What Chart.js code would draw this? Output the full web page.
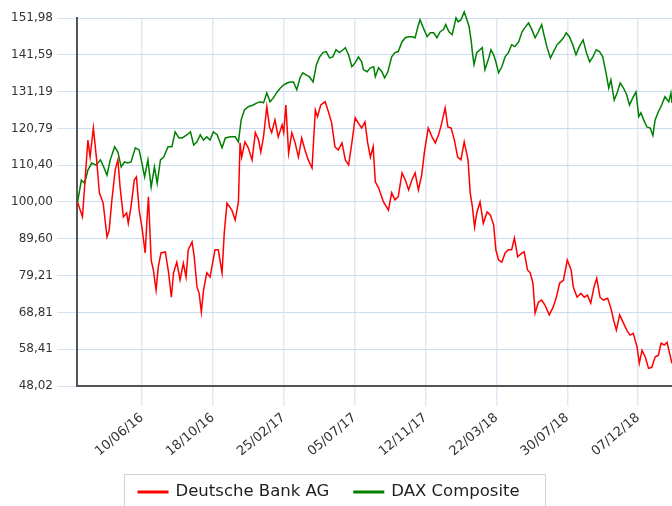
<!DOCTYPE html>
<html>
<head>
<meta charset="utf-8">
<script src="https://cdn.jsdelivr.net/npm/chart.js@4/dist/chart.umd.min.js"></script>
<style>
  html, body { margin: 0; padding: 0; background: #fff; }
  canvas { display: block; }
</style>
</head>
<body>
<canvas id="chart" width="672" height="506"></canvas>
<script>
// x values are days counted from the first tick date (10/06/16)
const xTickLabels = ["10/06/16", "18/10/16", "25/02/17", "05/07/17", "12/11/17", "22/03/18", "30/07/18", "07/12/18"];
const yTicks = [48.02, 58.41, 68.81, 79.21, 89.60, 100.00, 110.40, 120.79, 131.19, 141.59, 151.98];
const yTickLabels = ["48,02", "58,41", "68,81", "79,21", "89,60", "100,00", "110,40", "120,79", "131,19", "141,59", "151,98"];
const seriesNames = ["Deutsche Bank AG", "DAX Composite"];

const dbDays = [-118,-109,-99,-95,-89,-83,-78,-71,-64,-60,-55,-49,-44,-40,-34,-28,-25,-20,-14,-10,-5,0,6,9,12,17,21,26,30,35,43,49,54,58,64,70,76,81,85,92,96,101,105,109,113,119,125,134,140,147,151,156,165,171,177,180,183,189,195,202,208,214,218,223,229,234,238,244,250,257,260,264,269,275,281,287,293,299,305,312,318,322,328,336,342,348,354,360,367,373,379,385,391,397,403,409,414,419,424,428,434,443,452,458,464,470,477,483,489,495,501,507,513,518,525,532,538,544,549,556,561,567,573,579,585,591,598,602,606,610,614,620,626,633,639,645,649,654,660,666,672,678,683,689,697,701,707,712,717,721,727,733,739,747,754,760,766,773,780,787,791,798,805,811,817,823,829,834,840,846,854,860,865,870,876,883,889,895,901,908,912,917,923,929,935,941,947,952,958,963,967,972];
const dbValues = [100,95.8,117.5,112.7,120.9,111.9,102.6,99.7,90.1,92,100.6,109,111.9,104.2,95.8,96.9,94,98.6,106.2,107.1,97.7,92.9,85.6,94,101.5,83.6,80.8,75.1,81.6,85.6,85.9,80,73.1,80,83,78,82.7,78.8,86.5,88.7,84.5,76,74.2,68.9,75.1,80,78.8,86.5,86.5,80,91.2,99.7,97.7,94.9,100,116.7,112.7,117,115.3,111.9,119.6,117.5,114.1,118.4,126.9,121.2,119.6,123.2,118.4,121.8,119.6,127.4,113.8,119.6,116.7,112.7,118.1,114.7,111.9,109.6,126,124.1,127.4,128.3,125.5,122.3,115.6,114.7,116.7,111.9,110.5,116.7,123.8,122.3,120.9,122.6,116.7,112.7,115.6,105.7,104,100,97.7,102.6,100.6,101.5,108.2,106.2,103.4,106.2,108.2,103.4,107.6,114.1,120.9,118.4,116.7,119,121.8,126.6,121.2,120.9,117.5,112.7,111.9,117,111.9,102.6,98.6,92.9,96.9,100,94,97.2,96.3,93.5,86.5,83.6,83,85.6,86.5,86.5,89.8,84.5,85.6,85.9,80.8,80,77.1,68.6,71.7,72.3,70.9,68.1,70.3,73.1,77.1,77.9,83.6,80.8,76,73.1,74.2,73.1,73.7,71.4,76,78.5,73.1,72.3,72.8,70,66.6,63.8,68.1,65.8,63.8,62.4,62.9,59,54.4,58.1,56.2,53,53.3,56.2,56.7,60.1,59.6,60.4,57.6,54.4];

const daxDays = [-118,-115,-111,-105,-99,-92,-84,-76,-70,-64,-58,-50,-44,-38,-32,-26,-20,-12,-5,0,5,11,17,23,28,34,40,48,55,61,68,74,83,89,95,101,107,113,119,125,131,138,147,153,162,171,177,182,188,195,204,211,218,223,229,235,241,248,254,260,266,272,278,284,290,295,301,307,314,320,326,332,338,344,350,356,362,369,373,379,385,391,397,403,406,413,419,425,428,434,440,445,451,458,464,470,477,483,489,495,501,506,510,516,523,529,535,541,547,553,557,563,569,576,580,585,591,596,600,604,606,609,614,620,624,629,636,640,645,649,654,660,666,672,678,684,691,697,702,709,715,721,727,733,738,743,749,755,761,767,773,778,784,790,796,802,809,815,821,827,833,839,845,851,856,860,866,872,877,883,889,894,900,906,911,915,920,926,932,937,941,947,953,959,966,970,972];
const daxValues = [100,102.6,106.2,105.3,109,111,110.4,111.9,109.9,107.6,111.9,115.6,114.1,109.9,111.3,111,111.3,115.3,114.7,111,107.1,111.9,104.2,109.9,105.3,111.9,112.7,115.6,115.6,119.8,118.1,118.1,119,119.8,116.1,117,119,117.5,118.4,117.5,119.8,119,115.3,118.1,118.4,118.4,117,123.2,126,126.9,127.4,128,128.3,128,130.8,128.3,129.4,131.1,132.2,133.1,133.6,133.9,133.9,131.7,135.1,136.5,135.9,135.4,133.9,138.8,141,142.2,142.5,140.7,141,143,142.2,143,143.6,141.6,138.2,139.3,141,139.6,137.4,136.8,137.9,138.2,135.4,137.9,136.8,135.1,136.8,141,142.2,142.5,145.3,146.4,146.7,146.7,146.4,149.5,151.5,149.2,146.7,147.8,147.8,146.4,148.1,148.7,150.1,148.1,147.3,152,150.9,151.5,153.7,151.5,149.5,145.3,142.2,138.8,142.2,143,143.6,137.4,140.7,143,141.6,139.6,136.5,138.2,141,142.2,144.4,143.9,145.3,148.1,149.2,150.6,148.7,146.4,148.1,150.1,146.7,143.6,140.7,142.5,144.4,145.3,146.4,147.8,146.7,144.4,141.6,143.9,145.8,142.2,139.6,141,143,142.5,141,136.5,132.2,134.5,128.8,131.1,133.6,132.2,130.3,127.4,129.4,131.1,124.1,125.2,123.2,121.2,120.9,118.8,123.2,125.5,127.4,129.7,128.3,130.8,128];

function dayOf(label) {
  const [d, m, y] = label.split("/").map(Number);
  return Date.UTC(2000 + y, m - 1, d) / 86400000;
}
const origin = dayOf(xTickLabels[0]);
const xTickDays = xTickLabels.map((l) => dayOf(l) - origin);

const points = (days, vals) => days.map((d, i) => ({ x: d, y: vals[i] }));

const FONT = "'DejaVu Sans', Verdana, sans-serif";

// legend drawn under the plot, with the light frame around it
const boxLegend = {
  id: "boxLegend",
  afterDraw(chart) {
    const ctx = chart.ctx;
    const sets = chart.data.datasets;
    ctx.save();
    ctx.font = "16.5px " + FONT;
    const lineW = 31, gap = 7, itemGap = 24, padL = 13, padR = 26;
    const widths = sets.map((s) => lineW + gap + ctx.measureText(s.label).width);
    const total = widths.reduce((a, b) => a + b, 0) + itemGap * (sets.length - 1);
    const boxW = padL + total + padR;
    const boxX = Math.round(335 - boxW / 2) + 0.5;
    const boxY = 474.5;
    ctx.strokeStyle = "#d2d2d2";
    ctx.lineWidth = 1;
    ctx.strokeRect(boxX, boxY, boxW, 60);
    let x = boxX + padL;
    const y = 492;
    sets.forEach((s, i) => {
      ctx.strokeStyle = s.borderColor;
      ctx.lineWidth = 3;
      ctx.beginPath();
      ctx.moveTo(x, y);
      ctx.lineTo(x + lineW, y);
      ctx.stroke();
      ctx.fillStyle = "#1e1e1e";
      ctx.textBaseline = "middle";
      ctx.fillText(s.label, x + lineW + gap, y);
      x += widths[i] + itemGap;
    });
    ctx.restore();
  },
};

new Chart(document.getElementById("chart"), {
  type: "line",
  data: {
    datasets: [
      {
        label: seriesNames[0],
        data: points(dbDays, dbValues),
        borderColor: "#ff0000",
        borderWidth: 1.5,
        pointRadius: 0,
        clip: false,
      },
      {
        label: seriesNames[1],
        data: points(daxDays, daxValues),
        borderColor: "#008000",
        borderWidth: 1.5,
        pointRadius: 0,
        clip: false,
      },
    ],
  },
  options: {
    responsive: false,
    animation: false,
    layout: { padding: { top: 18, left: 0, right: 0, bottom: 0 } },
    plugins: { legend: { display: false }, tooltip: { enabled: false } },
    scales: {
      x: {
        type: "linear",
        min: -119,
        max: 972,
        afterBuildTicks: (s) => { s.ticks = xTickDays.map((v) => ({ value: v })); },
        afterFit: (s) => { s.height = 120; },
        ticks: {
          autoSkip: false,
          minRotation: 40,
          maxRotation: 40,
          padding: 4,
          color: "#333",
          font: { family: FONT, size: 13 },
          callback: (v, i) => xTickLabels[i],
        },
        grid: { color: "#e0e9f6", tickLength: 20, lineWidth: 1.5 },
        border: { color: "#555", width: 2 },
      },
      y: {
        min: yTicks[0],
        max: yTicks[yTicks.length - 1],
        afterBuildTicks: (s) => { s.ticks = yTicks.map((v) => ({ value: v })); },
        afterFit: (s) => { s.width = 77; },
        ticks: {
          padding: 4,
          color: "#333",
          font: { family: FONT, size: 12 },
          callback: (v, i) => yTickLabels[i],
        },
        grid: { color: "#c9dbf1", borderDash: [2, 2], tickLength: 20, tickBorderDash: [], tickColor: "#d3e2f4", lineWidth: 1 },
        border: { color: "#555", width: 2 },
      },
    },
  },
  plugins: [boxLegend],
});
</script>
</body>
</html>
